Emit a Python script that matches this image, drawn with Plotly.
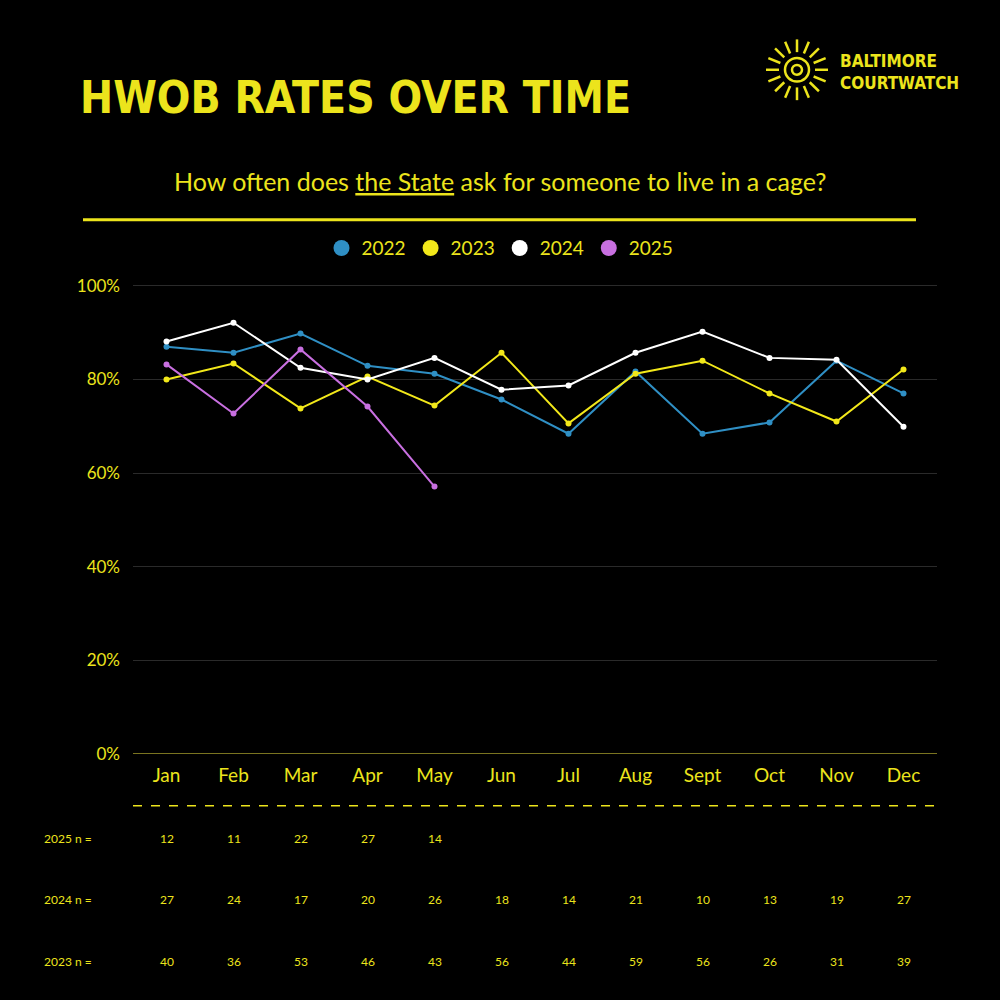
import math
import plotly.graph_objects as go

months = ["Jan", "Feb", "Mar", "Apr", "May", "Jun", "Jul", "Aug", "Sept", "Oct", "Nov", "Dec"]
rate_2022 = [87.0, 85.7, 89.8, 82.9, 81.2, 75.7, 68.4, 81.7, 68.4, 70.8, 84.0, 77.0]
rate_2023 = [80.0, 83.4, 73.8, 80.6, 74.4, 85.7, 70.6, 81.2, 84.0, 77.0, 71.0, 82.1]
rate_2024 = [88.1, 92.1, 82.5, 80.0, 84.6, 77.8, 78.7, 85.7, 90.2, 84.6, 84.2, 69.9]
rate_2025 = [83.2, 72.7, 86.4, 74.2, 57.1]
n_2025 = [12, 11, 22, 27, 14]
n_2024 = [27, 24, 17, 20, 26, 18, 14, 21, 10, 13, 19, 27]
n_2023 = [40, 36, 53, 46, 43, 56, 44, 59, 56, 26, 31, 39]
y_ticks = [0, 20, 40, 60, 80, 100]

YEL = "#ece41c"
BODY = "Lato"
TITLE = "DejaVu Sans Condensed"

fig = go.Figure()
series = [("2022", rate_2022, "#2f8fc4"), ("2023", rate_2023, "#f2e81a"),
          ("2024", rate_2024, "#ffffff"), ("2025", rate_2025, "#c86fe0")]
for name, vals, col in series:
    fig.add_trace(go.Scatter(x=list(range(len(vals))), y=vals, name=name, mode="lines+markers",
                             line=dict(color=col, width=2), marker=dict(size=6, color=col),
                             showlegend=False))
for name, vals, col in series:
    fig.add_trace(go.Scatter(x=[None], y=[None], name=name, mode="markers",
                             marker=dict(size=16, color=col)))

ann = [
    dict(text="<b>HWOB RATES OVER TIME</b>", x=0.078, y=0.911, xref="paper", yref="paper",
         xanchor="left", yanchor="middle", showarrow=False, font=dict(family=TITLE, size=44, color=YEL)),
    dict(text="How often does <u>the State</u> ask for someone to live in a cage?", x=0.5, y=0.826,
         xref="paper", yref="paper", xanchor="center", yanchor="middle", showarrow=False,
         font=dict(family=BODY, size=25, color=YEL)),
    dict(text="<b>BALTIMORE<br>COURTWATCH</b>", x=0.838, y=0.937, xref="paper", yref="paper",
         xanchor="left", yanchor="middle", showarrow=False, align="left",
         font=dict(family=TITLE, size=17, color=YEL)),
]
rows = [("2025 n =", n_2025, 0.155), ("2024 n =", n_2024, 0.092), ("2023 n =", n_2023, 0.029)]
for label, vals, yy in rows:
    ann.append(dict(text=label, x=0.068, y=yy, xref="paper", yref="paper", showarrow=False,
                    xanchor="center", yanchor="middle", font=dict(family=BODY, size=12, color=YEL)))
    for i, v in enumerate(vals):
        ann.append(dict(text=str(v), x=i, y=yy, xref="x", yref="paper", showarrow=False,
                        xanchor="center", yanchor="middle", font=dict(family=BODY, size=12, color=YEL)))

shapes = [
    dict(type="line", xref="paper", yref="paper", x0=0.083, x1=0.916, y0=0.786, y1=0.786,
         line=dict(color=YEL, width=3)),
    dict(type="line", xref="paper", yref="paper", x0=0.133, x1=0.937, y0=0.188, y1=0.188,
         line=dict(color=YEL, width=1.5, dash="dash")),
]
# logo sun
cx, cy = 0.797, 0.939
for r in (0.005, 0.012):
    shapes.append(dict(type="circle", xref="paper", yref="paper", x0=cx - r, x1=cx + r,
                       y0=cy - r, y1=cy + r, line=dict(color=YEL, width=2.5)))
for k in range(16):
    a = 2 * math.pi * k / 16
    shapes.append(dict(type="line", xref="paper", yref="paper",
                       x0=cx + 0.018 * math.cos(a), y0=cy + 0.018 * math.sin(a),
                       x1=cx + 0.031 * math.cos(a), y1=cy + 0.031 * math.sin(a),
                       line=dict(color=YEL, width=2.5)))

fig.update_layout(
    width=1000, height=1000, paper_bgcolor="black", plot_bgcolor="black",
    margin=dict(l=0, r=0, t=0, b=0),
    font=dict(family=BODY, color=YEL),
    legend=dict(orientation="h", x=0.5, xanchor="center", y=0.757, yanchor="middle",
                font=dict(family=BODY, size=19, color=YEL)),
    xaxis=dict(domain=[0.133, 0.937], range=[-0.5, 11.5], tickvals=list(range(12)), ticktext=months,
               showgrid=False, zeroline=False, tickfont=dict(size=19, color=YEL), ticks="",
               ticklabelstandoff=8),
    yaxis=dict(domain=[0.241, 0.720], range=[0, 100.3], tickvals=y_ticks,
               ticktext=[f"{v}%" for v in y_ticks], ticklabelstandoff=12,
               gridcolor="#2a2a2a", zeroline=True, zerolinecolor="#7a7420", zerolinewidth=1,
               tickfont=dict(size=17, color=YEL)),
    annotations=ann, shapes=shapes,
)
fig.write_html("out.html", config={"displayModeBar": False},
               post_script="document.body.style.margin='0';")
